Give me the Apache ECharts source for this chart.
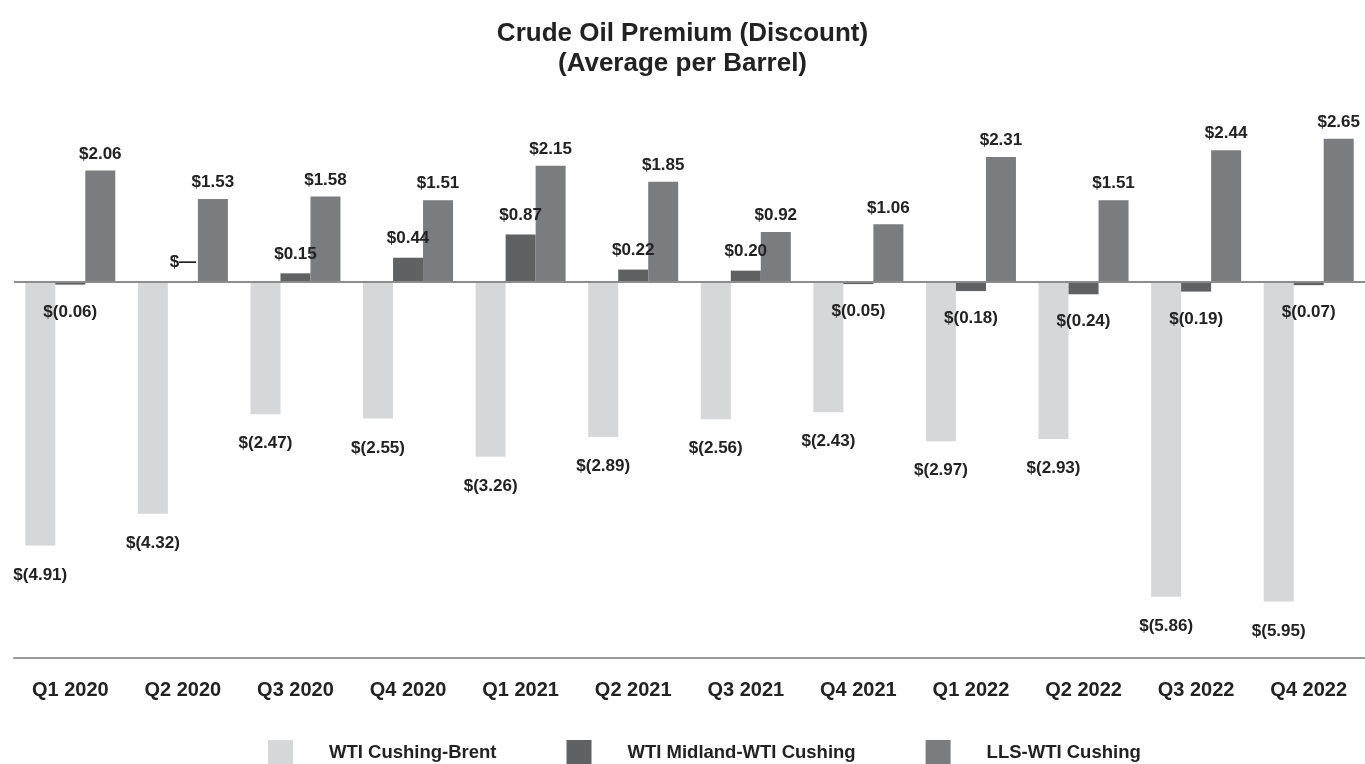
<!DOCTYPE html>
<html>
<head>
<meta charset="utf-8">
<script src="https://cdn.jsdelivr.net/npm/echarts@6/dist/echarts.min.js"></script>
<style>
  html, body { margin: 0; padding: 0; background: #fff; }
  #chart { width: 1365px; height: 764px; }
</style>
</head>
<body>
<div id="chart"></div>
<script>
// 季度
const quarters = ['Q1 2020', 'Q2 2020', 'Q3 2020', 'Q4 2020', 'Q1 2021', 'Q2 2021',
  'Q3 2021', 'Q4 2021', 'Q1 2022', 'Q2 2022', 'Q3 2022', 'Q4 2022']
const seriesNames = ['WTI Cushing-Brent', 'WTI Midland-WTI Cushing', 'LLS-WTI Cushing']
const cushingBrent = [-4.91, -4.32, -2.47, -2.55, -3.26, -2.89, -2.56, -2.43, -2.97, -2.93, -5.86, -5.95]
const midlandCushing = [-0.06, 0, 0.15, 0.44, 0.87, 0.22, 0.20, -0.05, -0.18, -0.24, -0.19, -0.07]
const llsCushing = [2.06, 1.53, 1.58, 1.51, 2.15, 1.85, 0.92, 1.06, 2.31, 1.51, 2.44, 2.65]

const font = "'Liberation Sans Narrow', 'Liberation Sans', Arial, sans-serif"
const colors = ['#d6d7d9', '#606163', '#7b7c7f']

// 美元格式: 负数用括号, 零用破折号
const money = function (v) {
  if (v === 0) return '$\u2014'
  if (v < 0) return '$(' + Math.abs(v).toFixed(2) + ')'
  return '$' + v.toFixed(2)
}

// 正数标签在上, 负数标签在下
const toData = function (arr, upDist, downDist) {
  return arr.map(v => ({
    value: v,
    label: { position: v < 0 ? 'bottom' : 'top', distance: v < 0 ? downDist : upDist }
  }))
}

const makeSeries = function (name, arr, i, upDist, downDist) {
  return {
    name: name,
    type: 'bar',
    barWidth: 30,
    barGap: '0%',
    itemStyle: { color: colors[i] },
    label: {
      show: true,
      color: '#222',
      fontFamily: font,
      fontWeight: 'bold',
      fontSize: 17,
      formatter: p => money(p.value)
    },
    data: toData(arr, upDist, downDist)
  }
}

const series = [
  makeSeries(seriesNames[0], cushingBrent, 0, 10, 21),
  makeSeries(seriesNames[1], midlandCushing, 1, 11, 19),
  makeSeries(seriesNames[2], llsCushing, 2, 8, 18)
]
// 零线
series[0].markLine = {
  silent: true,
  symbol: 'none',
  label: { show: false },
  lineStyle: { color: '#8c8c8c', width: 2, type: 'solid' },
  data: [{ yAxis: 0 }]
}

const myChart = echarts.init(document.getElementById('chart'))
myChart.setOption({
  animation: false,
  title: {
    text: 'Crude Oil Premium (Discount)\n(Average per Barrel)',
    left: 'center',
    top: 14,
    textStyle: {
      fontFamily: font,
      fontWeight: 'bold',
      fontSize: 26,
      lineHeight: 30,
      color: '#222'
    }
  },
  legend: {
    left: 268,
    top: 740,
    padding: 0,
    icon: 'rect',
    itemWidth: 25,
    itemHeight: 26,
    itemGap: 70,
    textStyle: {
      fontFamily: font,
      fontWeight: 'bold',
      fontSize: 18.5,
      color: '#222',
      padding: [0, 0, 0, 31]
    },
    data: seriesNames
  },
  grid: {
    left: 14,
    right: 0,
    top: 120,
    bottom: 106,
    outerBoundsMode: 'none'
  },
  xAxis: {
    type: 'category',
    data: quarters,
    axisLine: { onZero: false, lineStyle: { color: '#999', width: 2 } },
    axisTick: { alignWithLabel: true, length: 11, lineStyle: { color: '#999', width: 2 } },
    axisLabel: {
      interval: 0,
      margin: 22,
      color: '#222',
      fontFamily: font,
      fontWeight: 'bold',
      fontSize: 20
    }
  },
  yAxis: {
    type: 'value',
    min: -7,
    max: 3,
    show: false,
    splitLine: { show: false }
  },
  series: series
})
</script>
</body>
</html>
